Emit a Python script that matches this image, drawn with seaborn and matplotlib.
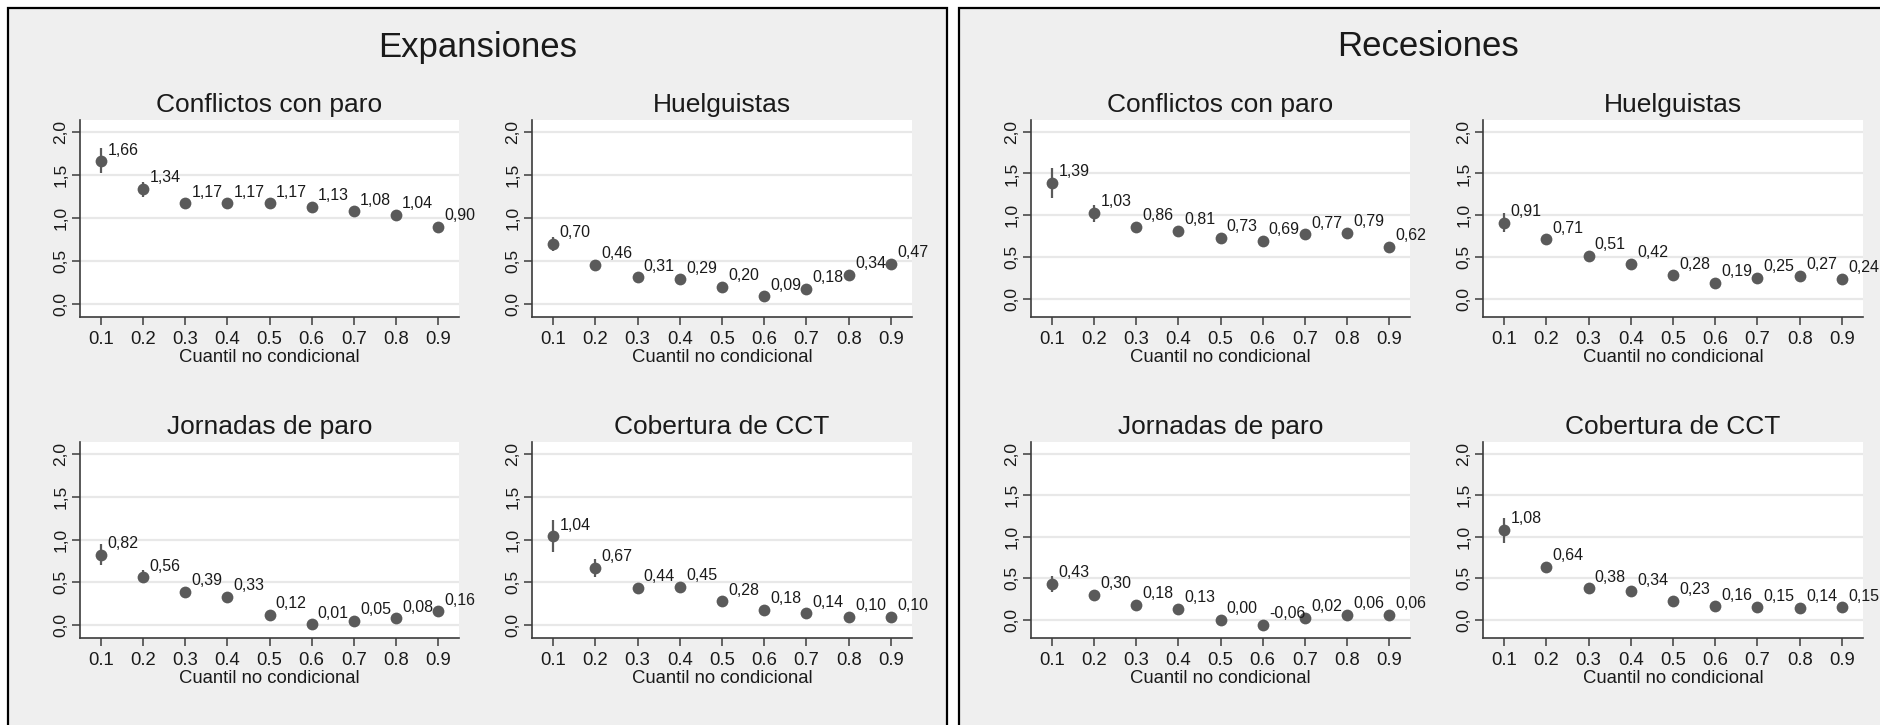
import numpy as np
import pandas as pd
import matplotlib
matplotlib.use("Agg")
import matplotlib.pyplot as plt
from matplotlib.patches import Rectangle
import seaborn as sns

# ---------------- data ----------------
quantiles = [0.1, 0.2, 0.3, 0.4, 0.5, 0.6, 0.7, 0.8, 0.9]
xtick_labels = ["0.1", "0.2", "0.3", "0.4", "0.5", "0.6", "0.7", "0.8", "0.9"]
ytick_values = [0.0, 0.5, 1.0, 1.5, 2.0]
ytick_labels = ["0,0", "0,5", "1,0", "1,5", "2,0"]
variables = ["Conflictos con paro", "Huelguistas", "Jornadas de paro", "Cobertura de CCT"]
phases = ["Expansiones", "Recesiones"]
xlabel = "Cuantil no condicional"

# Expansiones
exp_conflictos = [1.66, 1.34, 1.17, 1.17, 1.17, 1.13, 1.08, 1.04, 0.90]
exp_conflictos_lo = [1.52, 1.25, 1.13, 1.13, 1.13, 1.09, 1.04, 1.00, 0.86]
exp_conflictos_hi = [1.81, 1.42, 1.21, 1.21, 1.21, 1.17, 1.12, 1.08, 0.94]

exp_huelguistas = [0.70, 0.46, 0.31, 0.29, 0.20, 0.09, 0.18, 0.34, 0.47]
exp_huelguistas_lo = [0.62, 0.42, 0.27, 0.25, 0.16, 0.05, 0.14, 0.30, 0.43]
exp_huelguistas_hi = [0.78, 0.50, 0.35, 0.33, 0.24, 0.13, 0.22, 0.38, 0.51]

exp_jornadas = [0.82, 0.56, 0.39, 0.33, 0.12, 0.01, 0.05, 0.08, 0.16]
exp_jornadas_lo = [0.70, 0.49, 0.35, 0.29, 0.08, -0.03, 0.01, 0.04, 0.12]
exp_jornadas_hi = [0.95, 0.64, 0.43, 0.37, 0.16, 0.05, 0.09, 0.12, 0.20]

exp_cobertura = [1.04, 0.67, 0.44, 0.45, 0.28, 0.18, 0.14, 0.10, 0.10]
exp_cobertura_lo = [0.85, 0.56, 0.40, 0.41, 0.24, 0.14, 0.10, 0.06, 0.06]
exp_cobertura_hi = [1.23, 0.77, 0.48, 0.49, 0.32, 0.22, 0.18, 0.14, 0.14]

# Recesiones
rec_conflictos = [1.39, 1.03, 0.86, 0.81, 0.73, 0.69, 0.77, 0.79, 0.62]
rec_conflictos_lo = [1.21, 0.92, 0.82, 0.77, 0.69, 0.65, 0.73, 0.75, 0.58]
rec_conflictos_hi = [1.56, 1.12, 0.90, 0.85, 0.77, 0.73, 0.81, 0.83, 0.66]

rec_huelguistas = [0.91, 0.71, 0.51, 0.42, 0.28, 0.19, 0.25, 0.27, 0.24]
rec_huelguistas_lo = [0.80, 0.66, 0.47, 0.38, 0.24, 0.15, 0.21, 0.23, 0.20]
rec_huelguistas_hi = [1.02, 0.76, 0.55, 0.46, 0.32, 0.23, 0.29, 0.31, 0.28]

rec_jornadas = [0.43, 0.30, 0.18, 0.13, 0.00, -0.06, 0.02, 0.06, 0.06]
rec_jornadas_lo = [0.33, 0.26, 0.14, 0.09, -0.04, -0.10, -0.02, 0.02, 0.02]
rec_jornadas_hi = [0.53, 0.34, 0.22, 0.17, 0.04, -0.02, 0.06, 0.10, 0.10]

rec_cobertura = [1.08, 0.64, 0.38, 0.34, 0.23, 0.16, 0.15, 0.14, 0.15]
rec_cobertura_lo = [0.92, 0.56, 0.34, 0.30, 0.19, 0.12, 0.11, 0.10, 0.11]
rec_cobertura_hi = [1.23, 0.70, 0.42, 0.38, 0.27, 0.20, 0.19, 0.18, 0.19]

series = {
    ("Expansiones", "Conflictos con paro"): (exp_conflictos, exp_conflictos_lo, exp_conflictos_hi),
    ("Expansiones", "Huelguistas"): (exp_huelguistas, exp_huelguistas_lo, exp_huelguistas_hi),
    ("Expansiones", "Jornadas de paro"): (exp_jornadas, exp_jornadas_lo, exp_jornadas_hi),
    ("Expansiones", "Cobertura de CCT"): (exp_cobertura, exp_cobertura_lo, exp_cobertura_hi),
    ("Recesiones", "Conflictos con paro"): (rec_conflictos, rec_conflictos_lo, rec_conflictos_hi),
    ("Recesiones", "Huelguistas"): (rec_huelguistas, rec_huelguistas_lo, rec_huelguistas_hi),
    ("Recesiones", "Jornadas de paro"): (rec_jornadas, rec_jornadas_lo, rec_jornadas_hi),
    ("Recesiones", "Cobertura de CCT"): (rec_cobertura, rec_cobertura_lo, rec_cobertura_hi),
}

rows = []
for (ph, var), (est, lo, hi) in series.items():
    for q, e, l, h in zip(quantiles, est, lo, hi):
        rows.append({"fase": ph, "variable": var, "q": q, "est": e, "lo": l, "hi": h})
df = pd.DataFrame(rows)

# ---------------- style ----------------
sns.set_theme(style="white")
plt.rcParams["font.family"] = ["Liberation Sans", "DejaVu Sans"]

W, H = 1881, 725
fig = plt.figure(figsize=(W / 100, H / 100), dpi=100)
fig.patch.set_facecolor("white")

BG = "#efefef"
MARK = "#5a5a5a"
TXT = "#1a1a1a"
AXC = "#3c3c3c"

def fx(px):
    return px / W

def fy(py):
    return 1 - py / H

# big framed panels
frames = {"Expansiones": (8, 947), "Recesiones": (959, 1898)}
for ph, (x0, x1) in frames.items():
    rect = Rectangle((fx(x0), fy(740)), fx(x1) - fx(x0), fy(8) - fy(740),
                     transform=fig.transFigure, facecolor=BG, edgecolor="black",
                     linewidth=1.6, zorder=0)
    fig.add_artist(rect)
    fig.text(fx((x0 + x1) / 2), fy(47), ph, ha="center", va="center",
             fontsize=25, color=TXT)

# subplot pixel boxes (left, right, top, bottom)
boxes = {
    ("Expansiones", "Conflictos con paro"): (80, 459, 120, 317),
    ("Expansiones", "Huelguistas"): (532, 912, 120, 317),
    ("Expansiones", "Jornadas de paro"): (80, 459, 442, 638),
    ("Expansiones", "Cobertura de CCT"): (532, 912, 442, 638),
    ("Recesiones", "Conflictos con paro"): (1031, 1410, 120, 317),
    ("Recesiones", "Huelguistas"): (1483, 1863, 120, 317),
    ("Recesiones", "Jornadas de paro"): (1031, 1410, 442, 638),
    ("Recesiones", "Cobertura de CCT"): (1483, 1863, 442, 638),
}
ylims = {"Expansiones": (-0.15, 2.14), "Recesiones": (-0.22, 2.14)}

for (ph, var), (l, r, t, b) in boxes.items():
    ax = fig.add_axes([fx(l), fy(b), fx(r) - fx(l), fy(t) - fy(b)])
    ax.set_facecolor("white")
    d = df[(df.fase == ph) & (df.variable == var)]

    for yv in ytick_values:
        ax.axhline(yv, color="#e8e8e8", linewidth=1.6, zorder=0)

    ax.vlines(d["q"], d["lo"], d["hi"], color=MARK, linewidth=1.6, zorder=2)
    sns.scatterplot(data=d, x="q", y="est", ax=ax, color=MARK, s=72,
                    edgecolor=MARK, linewidth=0, zorder=3, legend=False)
    for q, e in zip(d["q"], d["est"]):
        ax.annotate(f"{e:.2f}".replace(".", ","), (q, e), xytext=(4.5, 8),
                    textcoords="offset points", ha="left", va="center",
                    fontsize=11.5, color=TXT, zorder=4)

    ax.set_xlim(0.05, 0.95)
    ax.set_ylim(*ylims[ph])
    ax.set_xticks(quantiles)
    ax.set_xticklabels(xtick_labels, fontsize=13.3, color=TXT)
    ax.set_yticks(ytick_values)
    ax.set_yticklabels(ytick_labels, fontsize=12.5, color=TXT, rotation=90,
                       va="center")
    ax.tick_params(axis="both", which="major", direction="out", length=5.5,
                   width=1.1, color=AXC, left=True, bottom=True)
    ax.tick_params(axis="x", pad=4.5)
    ax.tick_params(axis="y", pad=3)
    for s in ["top", "right"]:
        ax.spines[s].set_visible(False)
    for s in ["left", "bottom"]:
        ax.spines[s].set_color(AXC)
        ax.spines[s].set_linewidth(1.2)
    ax.set_xlabel(xlabel, fontsize=13.3, color=TXT, labelpad=0.5)
    ax.set_ylabel("")
    ax.set_title(var, fontsize=19, color=TXT, pad=6)
    ax.grid(False)

fig.savefig("out.png", dpi=100, facecolor=fig.get_facecolor())
